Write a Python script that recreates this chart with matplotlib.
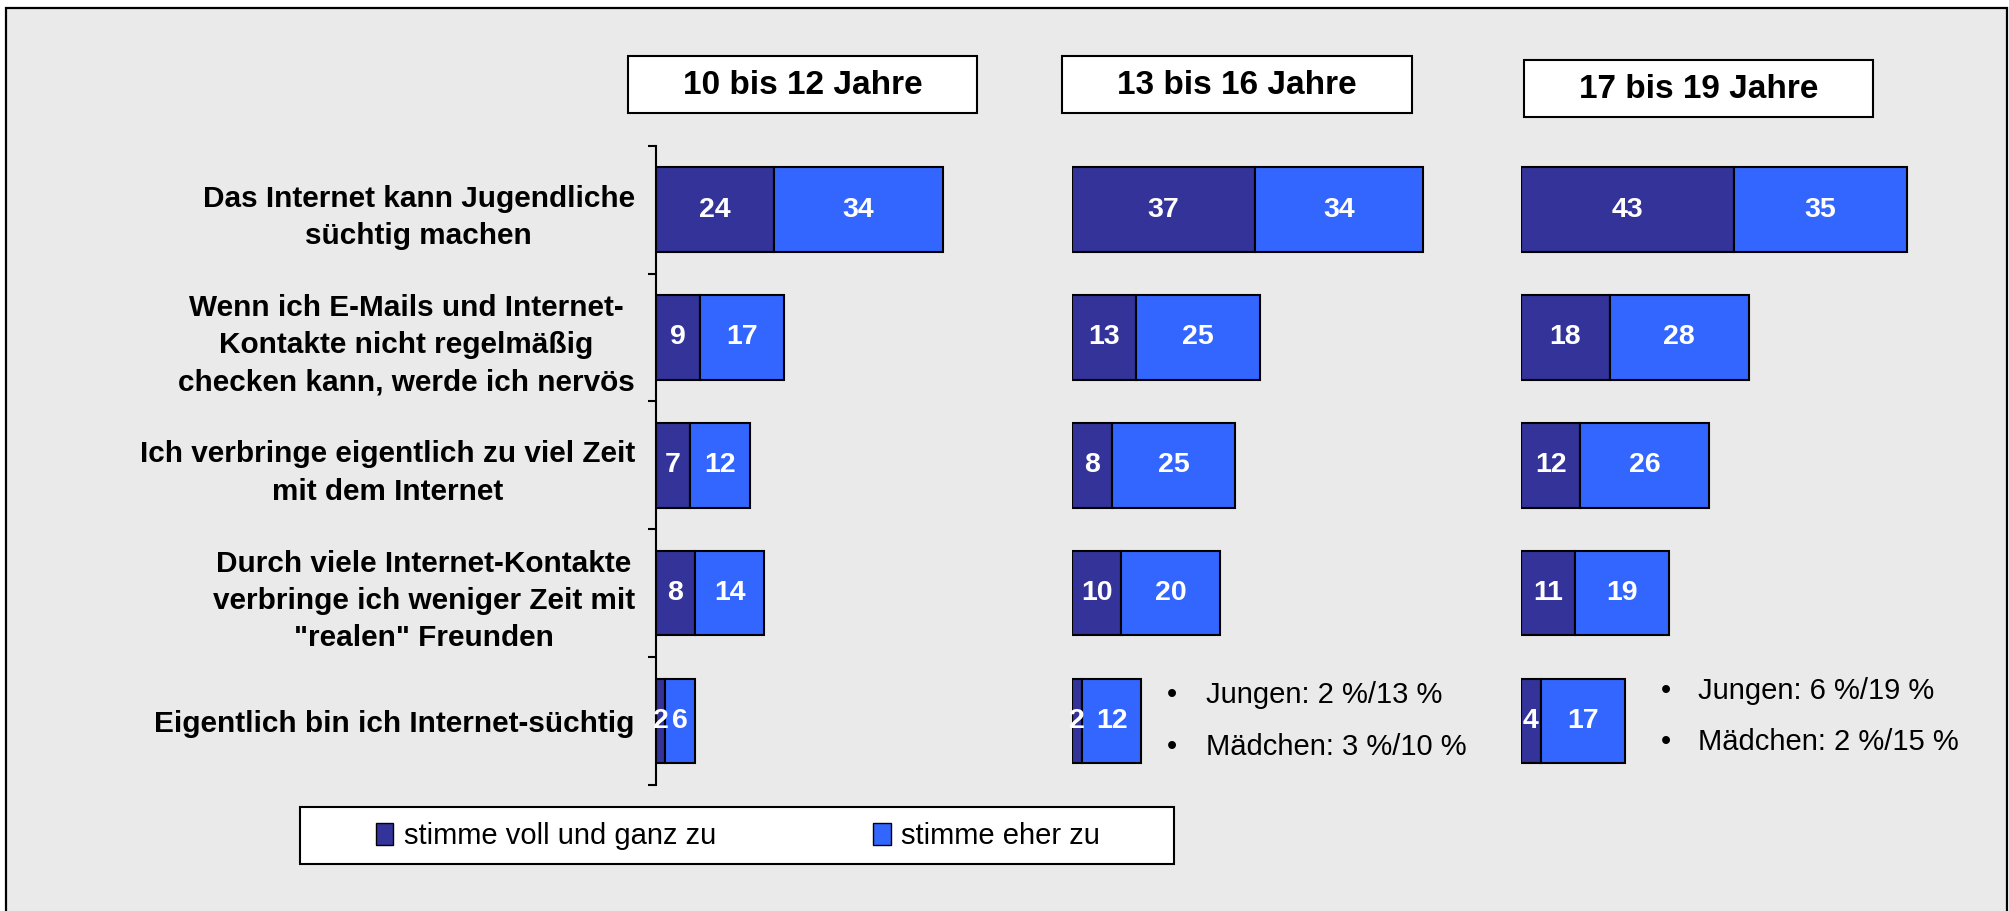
import matplotlib
matplotlib.use("Agg")
import matplotlib.pyplot as plt
from matplotlib.patches import Rectangle, Patch

plt.rcParams['font.family'] = ['Liberation Sans', 'DejaVu Sans']

# --- data ---
categories = [
    "Das Internet kann Jugendliche\nsüchtig machen",
    "Wenn ich E-Mails und Internet-\nKontakte nicht regelmäßig\nchecken kann, werde ich nervös",
    "Ich verbringe eigentlich zu viel Zeit\nmit dem Internet",
    "Durch viele Internet-Kontakte\nverbringe ich weniger Zeit mit\n\"realen\" Freunden",
    "Eigentlich bin ich Internet-süchtig",
]
age_groups = ["10 bis 12 Jahre", "13 bis 16 Jahre", "17 bis 19 Jahre"]
voll_10_12 = [24, 9, 7, 8, 2]
eher_10_12 = [34, 17, 12, 14, 6]
voll_13_16 = [37, 13, 8, 10, 2]
eher_13_16 = [34, 25, 25, 20, 12]
voll_17_19 = [43, 18, 12, 11, 4]
eher_17_19 = [35, 28, 26, 19, 17]
notes_13_16 = ["Jungen: 2 %/13 %", "Mädchen: 3 %/10 %"]
notes_17_19 = ["Jungen: 6 %/19 %", "Mädchen: 2 %/15 %"]
legend_labels = ["stimme voll und ganz zu", "stimme eher zu"]

DARK = "#333399"
LIGHT = "#3366FF"
BG = "#EAEAEA"

W, H = 2009, 911
fig = plt.figure(figsize=(W / 100, H / 100), dpi=100)
fig.patch.set_facecolor("white")


def fx(x):
    return x / W


def fy(y):
    return 1 - y / H


# outer frame (behind everything)
fig.patches.append(Rectangle((fx(6), fy(915)), fx(2001), 907 / H, transform=fig.transFigure,
                             facecolor=BG, edgecolor="black", linewidth=1.6, zorder=-10))

panels = [
    (age_groups[0], voll_10_12, eher_10_12, None),
    (age_groups[1], voll_13_16, eher_13_16, notes_13_16),
    (age_groups[2], voll_17_19, eher_17_19, notes_17_19),
]
panel_left = [655.6, 1072, 1521]
header_boxes = [(628, 56, 977, 113), (1062, 56, 1412, 113), (1524, 60, 1873, 117)]
note_pos = [None, (1172, 1206, [695, 747]), (1666, 1698, [691, 742])]

px_per_unit = 4.948
xmax = 80
ax_top, ax_bot = 145.7, 785
y = list(range(len(categories)))

for i, (title, voll, eher, notes) in enumerate(panels):
    ax = fig.add_axes([fx(panel_left[i]), fy(ax_bot), xmax * px_per_unit / W, (ax_bot - ax_top) / H])
    ax.patch.set_alpha(0)
    b1 = ax.barh(y, voll, height=0.66, color=DARK, edgecolor="black", linewidth=1.5)
    b2 = ax.barh(y, eher, left=voll, height=0.66, color=LIGHT, edgecolor="black", linewidth=1.5)
    for bars in (b1, b2):
        ax.bar_label(bars, label_type="center", color="white", fontsize=20.5, fontweight="bold")
    ax.set_xlim(0, xmax)
    ax.set_ylim(len(categories) - 0.5, -0.5)
    ax.set_xticks([])
    for s in ("top", "right", "bottom"):
        ax.spines[s].set_visible(False)
    if i == 0:
        ax.spines["left"].set_linewidth(1.5)
        ax.set_yticks(y)
        ax.set_yticklabels(categories, fontsize=21.4, fontweight="bold", linespacing=1.42)
        for lab in ax.get_yticklabels():
            lab.set_multialignment("center")
        ax.tick_params(axis="y", which="major", length=0, pad=15)
        ax.set_yticks([v - 0.5 for v in range(len(categories) + 1)], minor=True)
        ax.tick_params(axis="y", which="minor", length=6, width=1.5, direction="out")
    else:
        ax.spines["left"].set_visible(False)
        ax.set_yticks([])

    # header box
    x0, y0, x1, y1 = header_boxes[i]
    fig.patches.append(Rectangle((fx(x0), fy(y1)), (x1 - x0) / W, (y1 - y0) / H,
                                 transform=fig.transFigure, facecolor="white",
                                 edgecolor="black", linewidth=1.5))
    fig.text(fx((x0 + x1) / 2), fy((y0 + y1) / 2 + 1.5), title, ha="center", va="center",
             fontsize=24, fontweight="bold")

    if notes:
        bx, tx, ys = note_pos[i]
        for note, yy in zip(notes, ys):
            fig.text(fx(bx), fy(yy), "•", ha="center", va="center", fontsize=21)
            fig.text(fx(tx), fy(yy), note, ha="left", va="center", fontsize=21)

# legend
fig.patches.append(Rectangle((fx(300), fy(864)), 874 / W, 57 / H, transform=fig.transFigure,
                             facecolor="white", edgecolor="black", linewidth=1.5))
handles = [Patch(facecolor=DARK, edgecolor="black"), Patch(facecolor=LIGHT, edgecolor="black")]
fig.legend(handles, legend_labels, loc="center", bbox_to_anchor=(fx(738), fy(836)),
           ncol=2, frameon=False, fontsize=21, handlelength=0.6, handleheight=0.75,
           handletextpad=0.35, columnspacing=5.4)

fig.savefig("out.png", dpi=100, facecolor=fig.get_facecolor())
